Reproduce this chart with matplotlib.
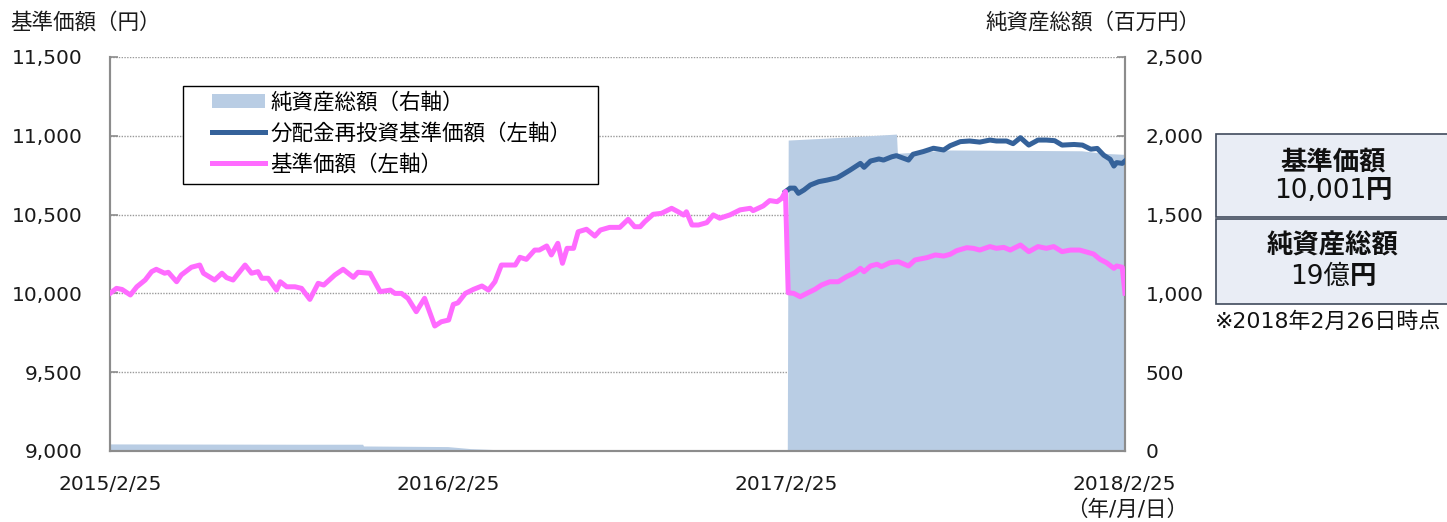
import matplotlib
matplotlib.use("Agg")
import matplotlib.pyplot as plt
from matplotlib.patches import Patch, Rectangle
from matplotlib.lines import Line2D
import pandas as pd

plt.rcParams['font.family'] = ['DejaVu Sans', 'Noto Sans CJK JP']

START = pd.Timestamp("2015-02-25")

# ---- data ----
# 基準価額 (left axis), day offsets from 2015/2/25
nav_days = [0, 7, 13, 22, 29, 38, 45, 50, 59, 63, 72, 77, 88, 97, 101, 113, 121, 126, 133,
            146, 153, 160, 164, 171, 180, 184, 191, 200, 207, 216, 225, 231, 243, 252, 263,
            268, 281, 292, 303, 308, 315, 322, 331, 340, 351, 358, 366, 371, 376, 384, 393,
            402, 409, 416, 423, 438, 443, 450, 459, 464, 472, 477, 484, 489, 494, 501, 506,
            515, 524, 530, 540, 551, 560, 567, 573, 578, 587, 596, 607, 614, 620, 623, 629,
            636, 645, 652, 659, 670, 681, 692, 695, 706, 713, 721, 726, 730,
            733, 739, 746, 753, 762, 769, 778, 787, 796, 805, 811, 815, 822, 829, 834, 843,
            852, 863, 870, 883, 892, 901, 908, 915, 926, 933, 940, 951, 958, 966, 973, 984,
            993, 1003, 1012, 1020, 1029, 1038, 1048, 1063, 1070, 1077, 1085, 1088, 1094, 1097]
nav_values = [10000, 10032, 10025, 9990, 10042, 10085, 10138, 10153, 10128, 10134, 10074, 10117,
              10166, 10180, 10128, 10085, 10128, 10100, 10085, 10180, 10128, 10138, 10096, 10096,
              10021, 10074, 10042, 10042, 10032, 9962, 10064, 10053, 10117, 10153, 10102, 10134,
              10128, 10011, 10021, 10000, 10000, 9969, 9884, 9969, 9793, 9820, 9831, 9930, 9940,
              10000, 10026, 10047, 10021, 10074, 10180, 10180, 10229, 10216, 10275, 10275, 10301,
              10244, 10318, 10191, 10286, 10286, 10391, 10407, 10364, 10402, 10419, 10419, 10470,
              10423, 10423, 10455, 10502, 10508, 10540, 10518, 10497, 10518, 10434, 10434, 10449,
              10498, 10477, 10498, 10530, 10540, 10525, 10555, 10589, 10582, 10603, 10646,
              10004, 10000, 9979, 10000, 10026, 10053, 10074, 10074, 10106, 10131, 10159, 10138,
              10174, 10185, 10170, 10195, 10201, 10174, 10212, 10227, 10244, 10237, 10248, 10271,
              10290, 10286, 10275, 10297, 10286, 10292, 10275, 10307, 10265, 10297, 10286, 10297,
              10265, 10275, 10275, 10250, 10216, 10195, 10159, 10174, 10166, 10001]

# 分配金再投資基準価額 (left axis) - visible part after 2017/2/24
reinv_days = [730, 735, 740, 744, 750, 757, 766, 775, 786, 791, 800, 811, 815, 822, 831, 836,
              845, 850, 863, 868, 879, 890, 901, 908, 919, 929, 940, 951, 958, 969, 976, 984,
              993, 1003, 1012, 1021, 1029, 1042, 1051, 1060, 1067, 1074, 1081, 1085, 1088,
              1094, 1097]
reinv_values = [10646, 10668, 10668, 10635, 10656, 10688, 10709, 10719, 10734, 10751, 10783,
                10825, 10800, 10840, 10853, 10846, 10867, 10874, 10846, 10883, 10900, 10921,
                10910, 10937, 10963, 10967, 10960, 10973, 10967, 10967, 10950, 10988, 10941,
                10973, 10973, 10969, 10941, 10945, 10941, 10915, 10920, 10877, 10851, 10808,
                10830, 10825, 10840]

# 純資産総額 (right axis, 百万円)
aum_days = [0, 203, 273, 274, 365, 390, 420, 455, 500, 732, 733, 790, 850, 851, 908, 1050,
            1074, 1097]
aum_values = [45, 43, 43, 32, 28, 15, 8, 3, 0, 0, 1973, 1990, 2011, 1889, 1910, 1905,
              1889, 1882]

x_ticks = ["2015-02-25", "2016-02-25", "2017-02-25", "2018-02-25"]
x_tick_labels = ["2015/2/25", "2016/2/25", "2017/2/25", "2018/2/25"]
left_ticks = [9000, 9500, 10000, 10500, 11000, 11500]
right_ticks = [0, 500, 1000, 1500, 2000, 2500]

series_labels = ["純資産総額（右軸）", "分配金再投資基準価額（左軸）", "基準価額（左軸）"]

# ---- styling ----
C_AREA = "#B9CDE4"
C_NAVY = "#35629A"
C_PINK = "#FF6BFF"
C_SPINE = "#8C8C8C"
FS = 14.5
LFS = 15.5
W, H = 1447, 522

nav_dates = START + pd.to_timedelta(nav_days, unit="D")
reinv_dates = START + pd.to_timedelta(reinv_days, unit="D")
aum_dates = START + pd.to_timedelta(aum_days, unit="D")

fig = plt.figure(figsize=(W/100, H/100), dpi=100)
ax2 = fig.add_axes([110/W, 1-451/H, (1125-110)/W, (451-57)/H])
ax1 = ax2.twinx()
ax1.yaxis.set_label_position("left")
ax1.yaxis.tick_left()
ax2.yaxis.tick_right()
ax1.set_zorder(ax2.get_zorder() + 1)
ax1.patch.set_visible(False)

# area (right axis)
ax2.fill_between(aum_dates, 0, aum_values, color=C_AREA, linewidth=0, zorder=2)
ax2.set_ylim(0, 2500)
ax2.set_yticks(right_ticks)
ax2.set_yticklabels([f"{v:,}" for v in right_ticks])
ax2.grid(axis="y", color="#9A9A9A", linestyle=(0, (1, 1)), linewidth=1.0, zorder=1)
ax2.set_axisbelow(True)

# lines (left axis)
ax1.plot(reinv_dates, reinv_values, color=C_NAVY, linewidth=3.6, solid_joinstyle="round", zorder=3)
ax1.plot(nav_dates, nav_values, color=C_PINK, linewidth=3.6, solid_joinstyle="round", zorder=4)
ax1.set_ylim(9000, 11500)
ax1.set_yticks(left_ticks)
ax1.set_yticklabels([f"{v:,}" for v in left_ticks])

xmin = START
xmax = START + pd.Timedelta(days=1097)
ax1.set_xlim(xmin, xmax)
ax2.set_xlim(xmin, xmax)
ax2.set_xticks(pd.to_datetime(x_ticks))
ax2.set_xticklabels(x_tick_labels)
ax2.tick_params(axis="x", length=0, pad=17, labelsize=FS, colors="#1a1a1a")
ax2.tick_params(axis="y", direction="in", length=6, width=1.2, color=C_SPINE, pad=15,
                labelsize=FS, labelcolor="#1a1a1a")
ax1.tick_params(axis="y", direction="in", length=6, width=1.2, color=C_SPINE, pad=20,
                labelsize=FS, labelcolor="#1a1a1a")

for a in (ax1, ax2):
    a.spines["top"].set_visible(False)
    for s in ("left", "right", "bottom"):
        a.spines[s].set_color(C_SPINE)
        a.spines[s].set_linewidth(1.5)

# legend (frame drawn separately to match the reference padding)
def ax_xy(px, py):
    return ((px - 110) / (1125 - 110), (451 - py) / (451 - 57))

handles = [Patch(facecolor=C_AREA, edgecolor="none"),
           Line2D([], [], color=C_NAVY, linewidth=3.6),
           Line2D([], [], color=C_PINK, linewidth=3.6)]
leg = ax1.legend(handles, series_labels, loc="upper left", bbox_to_anchor=ax_xy(212, 92),
                 fontsize=LFS, frameon=False, borderpad=0, labelspacing=0.46,
                 handlelength=2.45, handletextpad=0.25, borderaxespad=0, handleheight=0.6)
fx0, fy1 = ax_xy(183, 86)
fx1, fy0 = ax_xy(598, 184)
ax1.add_patch(Rectangle((fx0, fy0), fx1 - fx0, fy1 - fy0, transform=ax1.transAxes,
                        facecolor="white", edgecolor="#000000", linewidth=1.0, zorder=5))
leg.set_zorder(6)

# axis titles
fig.text(10/W, 1-22/H, "基準価額（円）", fontsize=LFS, ha="left", va="center", color="#1a1a1a")
fig.text(1200/W, 1-22/H, "純資産総額（百万円）", fontsize=LFS, ha="right", va="center", color="#1a1a1a")
fig.text(1188/W, 1-510/H, "（年/月/日）", fontsize=LFS, ha="right", va="center", color="#1a1a1a")

# info boxes
BOX_FC = "#E9EDF5"
BOX_EC = "#404A5C"
for top, bot in ((134, 217), (219, 304)):
    fig.patches.append(Rectangle((1216/W, 1-bot/H), (1460-1216)/W, (bot-top)/H,
                                 transform=fig.transFigure, facecolor=BOX_FC, edgecolor=BOX_EC,
                                 linewidth=1.2, clip_on=False))

CX = 1333/W
BFS = 19
fig.text(CX, 1-162/H, "基準価額", fontsize=BFS, fontweight="bold", ha="center", va="center", color="#111111")
fig.text(CX, 1-247/H, "純資産総額", fontsize=BFS, fontweight="bold", ha="center", va="center", color="#111111")

def mixed(y, normal, bold):
    t1 = fig.text(0, 1-y/H, normal, fontsize=BFS, ha="left", va="center", color="#111111")
    t2 = fig.text(0, 1-y/H, bold, fontsize=BFS, fontweight="bold", ha="left", va="center", color="#111111")
    r = fig.canvas.get_renderer()
    w1 = t1.get_window_extent(r).width
    w2 = t2.get_window_extent(r).width
    x0 = CX * W - (w1 + w2) / 2
    t1.set_x(x0 / W)
    t2.set_x((x0 + w1) / W)

mixed(191, "10,001", "円")
mixed(277, "19億", "円")

fig.text(1441/W, 1-322/H, "※2018年2月26日時点", fontsize=15.8, ha="right", va="center", color="#111111")

fig.savefig("out.png", dpi=100)
